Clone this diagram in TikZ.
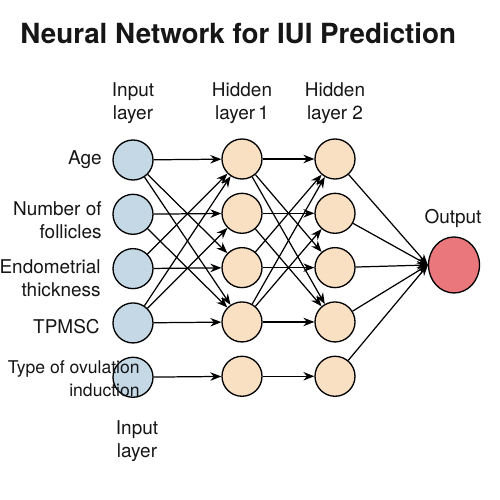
\documentclass[tikz,border=0pt]{standalone}
\usepackage{fontspec}
\setmainfont{TeX Gyre Heros}
\usetikzlibrary{positioning,arrows.meta,shapes.geometric}
\usepackage{xcolor}
\definecolor{inputbg}{HTML}{C4D8E6}
\definecolor{hiddenbg}{HTML}{F9E0C3}
\definecolor{outputbg}{HTML}{E9777B}
\definecolor{inktext}{HTML}{161616}

\begin{document}
\begin{tikzpicture}[
    node distance=2.6mm,
 neuron/.style = {
        draw, circle, minimum size=8mm, inner sep=0pt,
        line width=0.75pt},
 inneuron/.style = {neuron, fill=inputbg},
 hidneuron/.style = {neuron, fill=hiddenbg},
 outneuron/.style = {
        draw, ellipse, minimum width=10.2mm, minimum height=11.2mm,
        inner sep=0pt, fill=outputbg, line width=0.75pt},
 layerlabel/.style = {
        align=center, inner sep=0pt, text=inktext,
        font=\fontsize{10.8}{13}\selectfont},
 feature/.style = {
        align=right, anchor=east, inner sep=0pt, text=inktext,
        font=\fontsize{10.8}{13}\selectfont},
 title/.style = {
        anchor=base west, inner sep=0pt, text=inktext,
        font=\fontsize{15.8}{19}\selectfont\bfseries},
 arrow/.style = {line width=0.7pt,-{Stealth[length=2.2mm,width=1.7mm]}}
                    ]
\fill[white] (0,0) rectangle (10,10);
\useasboundingbox (0,0) rectangle (10,10);
% the title
\node (title) [title] at (0.4,9.12) {Neural Network for IUI Prediction};

% the input layer
\node (i1) [inneuron] at (2.66,6.80) {};
\node (i2) [inneuron,below=of i1] {};
\node (i3) [inneuron,below=of i2] {};
\node (i4) [inneuron,below=of i3] {};
\node (i5) [inneuron,below=of i4] {};
% the first hidden layer
\node (h1) [hidneuron] at (4.84,6.82) {};
\node (h2) [hidneuron,below=of h1] {};
\node (h3) [hidneuron,below=of h2] {};
\node (h4) [hidneuron,below=of h3] {};
\node (h5) [hidneuron,below=of h4] {};
% the second hidden layer
\node (k1) [hidneuron] at (6.70,6.82) {};
\node (k2) [hidneuron,below=of k1] {};
\node (k3) [hidneuron,below=of k2] {};
\node (k4) [hidneuron,below=of k3] {};
\node (k5) [hidneuron,below=of k4] {};
% the output
\node (out) [outneuron] at (9.08,4.70) {};

% the labels of the layers
\node (lin)  [layerlabel] at (2.66,7.93) {Input\\layer};
\node (lh1)  [layerlabel] at (4.84,7.93) {Hidden\\layer\,1};
\node (lh2)  [layerlabel] at (6.70,7.93) {Hidden\\layer 2};
\node (lout) [layerlabel] at (9.06,5.64) {Output};
\node (lbot) [layerlabel] at (2.74,1.17) {Input\\layer};

% the features on the left
\node (fage) [feature] at (2.04,6.80) {Age};
\node (ffol) [feature] at (2.04,5.59) {Number of\\follicles};
\node (fend) [feature] at (2.02,4.44) {Endometrial\\thickness};
\node (ftpm) [feature] at (2.00,3.46) {TPMSC};
\node (fovu) [feature,font=\fontsize{10}{13}\selectfont] at (2.80,2.42)
                {Type of ovulation\\induction};

% input to first hidden layer
\draw[arrow] (i1) -- (h1);
\draw[arrow] (i1) -- (h3);
\draw[arrow] (i1) -- (h4);
\draw[arrow] (i2) -- (h2);
\draw[arrow] (i2) -- (h4);
\draw[arrow] (i3) -- (h3);
\draw[arrow] (i3) -- (h1);
\draw[arrow] (i4) -- (h4);
\draw[arrow] (i4) -- (h1);
\draw[arrow] (i4) -- (h2);
\draw[arrow] (i5) -- (h5);
% first to second hidden layer
\draw[arrow] (h1) -- (k1);
\draw[arrow] (h1) -- (k3);
\draw[arrow] (h1) -- (k4);
\draw[arrow] (h2) -- (k2);
\draw[arrow] (h2) -- (k4);
\draw[arrow] (h3) -- (k3);
\draw[arrow] (h3) -- (k1);
\draw[arrow] (h4) -- (k4);
\draw[arrow] (h4) -- (k1);
\draw[arrow] (h4) -- (k2);
\draw[arrow] (h5) -- (k5);
% second hidden layer to the output
\draw[arrow] (k1) -- (out.west);
\draw[arrow] (k2) -- (out.west);
\draw[arrow] (k3) -- (out.west);
\draw[arrow] (k4) -- (out.west);
\draw[arrow] (k5) -- (out.west);
\end{tikzpicture}
\end{document}
